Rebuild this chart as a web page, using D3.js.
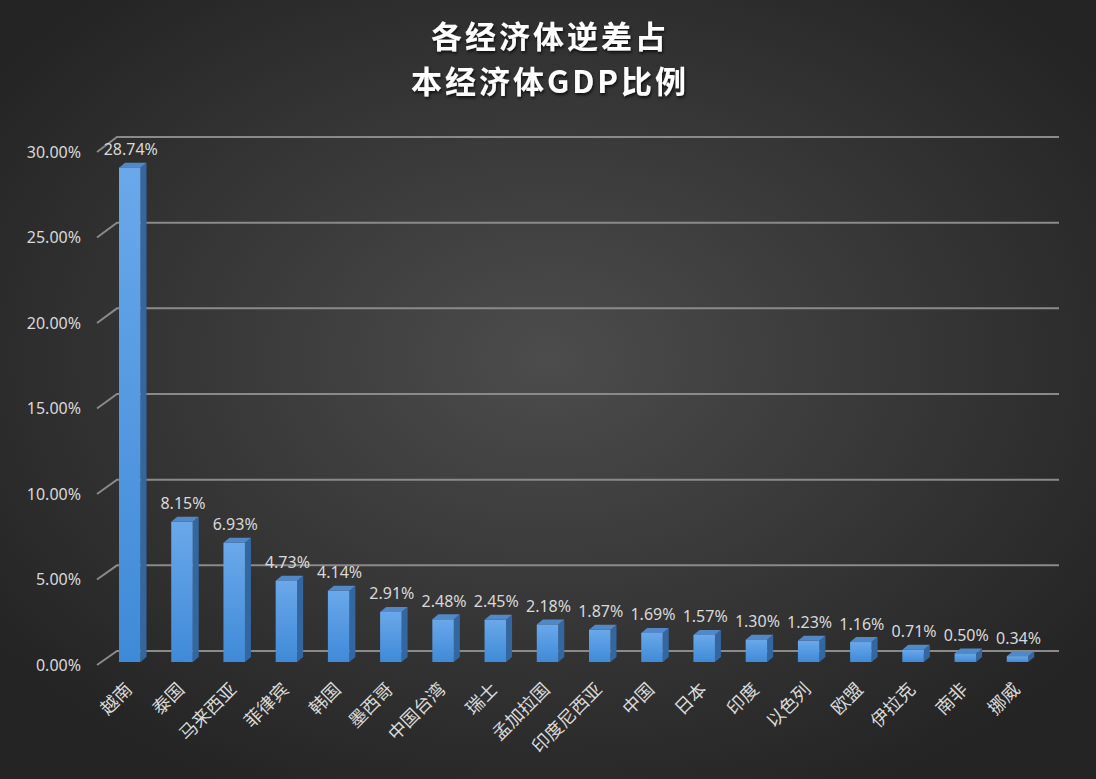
<!DOCTYPE html>
<html><head><meta charset="utf-8">
<script src="https://cdn.jsdelivr.net/npm/d3@7"></script>
<style>html,body{margin:0;padding:0;background:#2a2a2a;overflow:hidden}</style>
</head><body><svg id="c" width="1096" height="779"></svg>
<script>
const categories = ["越南","泰国","马来西亚","菲律宾","韩国","墨西哥","中国台湾","瑞士","孟加拉国","印度尼西亚","中国","日本","印度","以色列","欧盟","伊拉克","南非","挪威"];
const values = [28.74,8.15,6.93,4.73,4.14,2.91,2.48,2.45,2.18,1.87,1.69,1.57,1.30,1.23,1.16,0.71,0.50,0.34];
const yTicks = [0,5,10,15,20,25,30];
const titleLines = ["各经济体逆差占","本经济体GDP比例"];

const svg = d3.select("#c");
const W = 1096, H = 779;
const defs = svg.append("defs");
const bg = defs.append("radialGradient").attr("id","bg").attr("cx","50%").attr("cy","46%").attr("r","62%");
bg.append("stop").attr("offset","0%").attr("stop-color","#4c4c4c");
bg.append("stop").attr("offset","100%").attr("stop-color","#242424");
const fg = defs.append("linearGradient").attr("id","front").attr("x1","0").attr("x2","0").attr("y1","0").attr("y2","1");
fg.append("stop").attr("offset","0%").attr("stop-color","#6aa8ea");
fg.append("stop").attr("offset","100%").attr("stop-color","#3f8ad8");
const sh = defs.append("filter").attr("id","ts").attr("x","-10%").attr("y","-20%").attr("width","120%").attr("height","150%");
sh.append("feDropShadow").attr("dx",1).attr("dy",2).attr("stdDeviation",1.5).attr("flood-color","#000").attr("flood-opacity",0.7);

svg.append("rect").attr("width",W).attr("height",H).attr("fill","url(#bg)");

const x = d3.scaleBand().domain(categories).range([97,1037]).padding(0);
const yBar = d3.scaleLinear().domain([0,30]).range([662,146]);
const yFront = d3.scaleLinear().domain([0,30]).range([665,152]);
const yBack = d3.scaleLinear().domain([0,30]).range([651,137]);
const dx = 20, xEnd = 1059;
const txt = "#d9d9d9";

// gridlines
const g = svg.append("g");
yTicks.forEach(t=>{
  g.append("path")
    .attr("d",`M${97},${yFront(t)}L${97+dx},${yBack(t)}L${xEnd},${yBack(t)}`)
    .attr("fill","none").attr("stroke","#8a8a8a").attr("stroke-width",2);
});
// y axis labels
svg.append("g").selectAll("text").data(yTicks).join("text")
  .attr("x",81).attr("y",d=>yFront(d)).attr("dy","0.35em")
  .attr("text-anchor","end").attr("fill",txt)
  .attr("font-family","'Noto Sans', sans-serif").attr("font-size",16)
  .text(d=>d.toFixed(2)+"%");

// bars
const bw = 21.5, ddx = 6, ddy = 5, off = 22;
const bars = svg.append("g").selectAll("g").data(categories.map((c,i)=>({c,v:values[i]}))).join("g");
bars.each(function(d){
  const s = d3.select(this);
  const xl = x(d.c)+off, xr = xl+bw, yt = yBar(d.v), y0 = yBar(0);
  s.append("polygon").attr("points",[[xr,yt],[xr+ddx,yt-ddy],[xr+ddx,y0-ddy],[xr,y0]].join(" ")).attr("fill","#3467a0");
  s.append("polygon").attr("points",[[xl,yt],[xl+ddx,yt-ddy],[xr+ddx,yt-ddy],[xr,yt]].join(" ")).attr("fill","#5189c8");
  s.append("rect").attr("x",xl).attr("y",yt).attr("width",bw).attr("height",y0-yt).attr("fill","url(#front)");
  s.append("text").attr("x",xl+bw/2+1).attr("y",yt-12.5).attr("text-anchor","middle")
    .attr("fill",txt).attr("font-family","'Noto Sans', sans-serif").attr("font-size",16)
    .text(d.v.toFixed(2)+"%");
});

// x labels
svg.append("g").selectAll("text").data(categories).join("text")
  .attr("transform",d=>`translate(${x(d)+off+bw/2-1},${686}) rotate(-45)`)
  .attr("text-anchor","end").attr("dy","0.35em")
  .attr("fill",txt).attr("font-family","'Noto Sans CJK SC', sans-serif").attr("font-size",18)
  .text(d=>d);

// title
svg.append("g").attr("filter","url(#ts)").selectAll("text").data(titleLines).join("text")
  .attr("x",W/2+2).attr("y",(d,i)=>37+i*45).attr("dy","0.36em")
  .attr("text-anchor","middle").attr("fill","#ffffff")
  .attr("font-family","'Noto Sans CJK SC', sans-serif").attr("font-weight","bold")
  .attr("font-size",31).attr("letter-spacing",3)
  .text(d=>d);
</script>
</body></html>
